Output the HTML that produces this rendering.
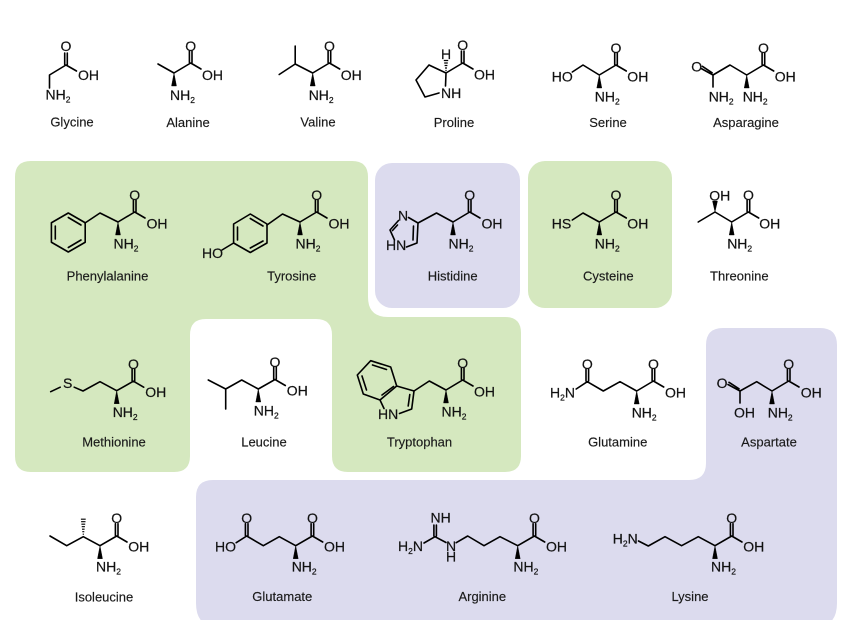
<!DOCTYPE html>
<html lang="en">
<head>
<meta charset="utf-8">
<title>Amino acids</title>
<style>
html,body{margin:0;padding:0;background:#fff}
body{width:854px;height:620px;overflow:hidden}
svg{display:block;filter:blur(.35px)}
.b{fill:none;stroke:#000;stroke-width:1.6;stroke-linecap:round;stroke-linejoin:round}
.h{fill:none;stroke:#000;stroke-width:1.2}
.w{fill:#000;stroke:#000;stroke-width:.4}
text{font-family:"Liberation Sans",sans-serif;font-size:14px;fill:#111;stroke:#111;stroke-width:.2}
text.l{font-size:13px;text-anchor:middle;fill:#1a1a1a;stroke:#1a1a1a;stroke-width:.15}
text.m{text-anchor:middle}
tspan.s{font-size:8.5px}
</style>
</head>
<body>
<svg width="854" height="620" viewBox="0 0 854 620" xmlns="http://www.w3.org/2000/svg">
<!-- Backgrounds -->
<path fill="#d5e8bf" d="M31 161H352Q368 161 368 177V297Q368 317 388 317H505Q521 317 521 333V456Q521 472 505 472H348Q332 472 332 456V335Q332 319 316 319H206Q190 319 190 335V456Q190 472 174 472H31Q15 472 15 456V177Q15 161 31 161Z"/>
<rect x="375" y="163" width="145" height="145" rx="17" fill="#dcdbee"/>
<rect x="528" y="161" width="144" height="147" rx="17" fill="#d5e8bf"/>
<path fill="#dcdbee" d="M213 480H689Q706 480 706 463V345Q706 328 723 328H820Q837 328 837 345V603Q837 620 826 625H207Q196 620 196 603V497Q196 480 213 480Z"/>

<!-- Glycine -->
<path class="b" d="M49.5 88V75L66 65L76.5 71M64.7 64.5V53M67.3 64.5V53"/>
<text x="66" y="51" class="m">O</text><text x="78" y="80">OH</text><text x="45.5" y="99.5">NH<tspan class="s" dy="3">2</tspan></text>
<text class="l" x="72" y="126.5">Glycine</text>

<!-- Alanine -->
<g transform="translate(174 73)"><path class="b" d="M-16 -9L0 0L16.7 -10L27 -4M15.4 -10.5V-22M18 -10.5V-22"/><polygon class="w" points="0,0 -2.5,13 2.5,13"/>
<text x="16.7" y="-22" class="m">O</text><text x="28" y="7">OH</text><text x="-4" y="27">NH<tspan class="s" dy="3">2</tspan></text></g>
<text class="l" x="188" y="127">Alanine</text>

<!-- Valine -->
<g transform="translate(312.7 73)"><path class="b" d="M-33.5 1.5L-17.5 -9V-27M-17.5 -9L0 0L16.7 -10L27 -4M15.4 -10.5V-22M18 -10.5V-22"/><polygon class="w" points="0,0 -2.5,13 2.5,13"/>
<text x="16.7" y="-22" class="m">O</text><text x="28" y="7">OH</text><text x="-4" y="27">NH<tspan class="s" dy="3">2</tspan></text></g>
<text class="l" x="318" y="126.5">Valine</text>

<!-- Proline -->
<g transform="translate(446 73)"><path class="b" d="M-0.5 13L0 0L16.7 -10L27 -4M15.4 -10.5V-22M18 -10.5V-22M0 0L-17 -8L-30 7L-21 24L-7 20"/>
<path class="h" d="M-0.6 -2.5H0.6M-1 -5H1M-1.4 -7.5H1.4M-1.8 -10H1.8M-2.2 -12.5H2.2"/>
<text x="0" y="-14" class="m">H</text><text x="16.7" y="-23" class="m">O</text><text x="28" y="6.5">OH</text><text x="-5" y="25">NH</text></g>
<text class="l" x="454" y="127">Proline</text>

<!-- Serine -->
<g transform="translate(599.3 75)"><path class="b" d="M-27 -3L-16.3 -10L0 0L16.7 -10L27 -4M15.4 -10.5V-22M18 -10.5V-22"/><polygon class="w" points="0,0 -2.5,13 2.5,13"/>
<text x="16.7" y="-22" class="m">O</text><text x="28" y="6.5">OH</text><text x="-4.5" y="26.5">NH<tspan class="s" dy="3">2</tspan></text><text x="-47.5" y="6.5">HO</text></g>
<text class="l" x="608" y="127">Serine</text>

<!-- Asparagine -->
<g transform="translate(746.7 75)"><path class="b" d="M-33.7 12V0L-16.7 -10L0 0L16.7 -10L27 -4M15.4 -10.5V-22M18 -10.5V-22M-33.7 0L-45.5 -6.5M-34.6 -2.2L-44.3 -8.7"/><polygon class="w" points="0,0 -2.5,13 2.5,13"/>
<text x="16.7" y="-22" class="m">O</text><text x="28" y="6.5">OH</text><text x="-4" y="26.5">NH<tspan class="s" dy="3">2</tspan></text><text x="-38" y="26.5">NH<tspan class="s" dy="3">2</tspan></text><text x="-50" y="-3.5" class="m">O</text></g>
<text class="l" x="746" y="127">Asparagine</text>

<!-- Phenylalanine -->
<g transform="translate(118 222)"><path class="b" d="M-33 1L-18 -9L0 0L16.7 -10L27 -4M15.4 -10.5V-22M18 -10.5V-22"/><polygon class="w" points="0,0 -2.5,13 2.5,13"/>
<text x="16.7" y="-22" class="m">O</text><text x="28.5" y="6.5">OH</text><text x="-4.5" y="26.5">NH<tspan class="s" dy="3">2</tspan></text></g>
<path class="b" d="M68.3 213L85.2 222.75V242.25L68.3 252L51.4 242.25V222.75ZM68.3 217.5L81 225M68.3 247.5L81 240M55.3 226V239"/>
<text class="l" x="107.5" y="280.5">Phenylalanine</text>

<!-- Tyrosine -->
<g transform="translate(300 222)"><path class="b" d="M-33 3L-17.5 -8L0 0L16.7 -10L27 -4M15.4 -10.5V-22M18 -10.5V-22"/><polygon class="w" points="0,0 -2.5,13 2.5,13"/>
<text x="16.7" y="-22" class="m">O</text><text x="28.5" y="6.5">OH</text><text x="-4.5" y="26.5">NH<tspan class="s" dy="3">2</tspan></text></g>
<path class="b" d="M250.3 214L267 224V243L250.3 252.5L233.6 243V224ZM250.3 218.5L263 226M250.3 248L263 241M237.5 227V240M233.6 243L222 250"/>
<text x="202" y="258">HO</text>
<text class="l" x="291.7" y="280.5">Tyrosine</text>

<!-- Histidine -->
<g transform="translate(453 222)"><path class="b" d="M-35 1L-16.5 -9L0 0L16.7 -10L27 -4M15.4 -10.5V-22M18 -10.5V-22"/><polygon class="w" points="0,0 -2.5,13 2.5,13"/>
<text x="16.7" y="-22" class="m">O</text><text x="28.5" y="6.5">OH</text><text x="-4.5" y="26.5">NH<tspan class="s" dy="3">2</tspan></text></g>
<path class="b" d="M418 223L408.5 217.5M398.5 220.5L390 230L394.5 240M406.5 247L417 243L418 223M413.5 226L413 240M397.5 225L392.5 230.5"/>
<text x="403" y="220.5" class="m">N</text><text x="386" y="250">HN</text>
<text class="l" x="452.7" y="280.5">Histidine</text>

<!-- Cysteine -->
<g transform="translate(599.3 222)"><path class="b" d="M-27 -2L-16.3 -9L0 0L16.7 -10L27 -4M15.4 -10.5V-22M18 -10.5V-22"/><polygon class="w" points="0,0 -2.5,13 2.5,13"/>
<text x="16.7" y="-22" class="m">O</text><text x="28" y="6.5">OH</text><text x="-4.5" y="26.5">NH<tspan class="s" dy="3">2</tspan></text><text x="-47.5" y="6.5">HS</text></g>
<text class="l" x="608.3" y="280.5">Cysteine</text>

<!-- Threonine -->
<g transform="translate(731.7 222)"><path class="b" d="M-33.5 0L-16.7 -10L0 0L16.7 -10L27 -4M15.4 -10.5V-22M18 -10.5V-22"/><polygon class="w" points="0,0 -2.5,13 2.5,13"/><polygon class="w" points="-16.7,-10 -19.2,-21 -14.2,-21"/>
<text x="16.7" y="-22" class="m">O</text><text x="27.5" y="6.5">OH</text><text x="-4.5" y="26.5">NH<tspan class="s" dy="3">2</tspan></text><text x="-22.5" y="-21.5">OH</text></g>
<text class="l" x="739.3" y="280.5">Threonine</text>

<!-- Methionine -->
<g transform="translate(116.7 390.7)"><path class="b" d="M-42.5 -3.5L-33.7 0.3L-16.7 -9L0 0L16.7 -9.5L27 -3.5M15.4 -10V-22M18 -10V-22M-56.5 -3.5L-66 1"/><polygon class="w" points="0,0 -2.5,13 2.5,13"/>
<text x="16.7" y="-21.5" class="m">O</text><text x="28.5" y="6.5">OH</text><text x="-4" y="26.5">NH<tspan class="s" dy="3">2</tspan></text><text x="-49" y="-2.5" class="m">S</text></g>
<text class="l" x="114" y="446.5">Methionine</text>

<!-- Leucine -->
<g transform="translate(258.3 389)"><path class="b" d="M-50 -9L-32.6 0V20M-32.6 0L-16.6 -9L0 0L16.7 -9.5L27 -3.5M15.4 -10V-22M18 -10V-22"/><polygon class="w" points="0,0 -2.5,13 2.5,13"/>
<text x="16.7" y="-22" class="m">O</text><text x="28.5" y="6.5">OH</text><text x="-4.5" y="26.5">NH<tspan class="s" dy="3">2</tspan></text></g>
<text class="l" x="264" y="446.5">Leucine</text>

<!-- Tryptophan -->
<g transform="translate(446 390)"><path class="b" d="M-32 1L-16.7 -9L0 0L16.7 -10L27 -4M15.4 -10.5V-22M18 -10.5V-22"/><polygon class="w" points="0,0 -2.5,13 2.5,13"/>
<text x="16.7" y="-22" class="m">O</text><text x="28" y="6.5">OH</text><text x="-4.5" y="26.5">NH<tspan class="s" dy="3">2</tspan></text></g>
<path class="b" d="M396.7 386L390.7 367L370.7 360.7L357.3 375L363.3 394L380 400L396.7 386L414 391L411.7 409L399.5 413.5M380 400L384 408.5M386.5 369.5L372.5 365M362 376L366.5 390M382 395L393.5 386.5M409.8 394.5L408.2 406"/>
<text x="378" y="419">HN</text>
<text class="l" x="419.5" y="446.5">Tryptophan</text>

<!-- Glutamine -->
<g transform="translate(636.7 391)"><path class="b" d="M-60.5 -2L-49.4 -9.3L-33.4 0L-16.7 -9.3L0 0L16.7 -10L27 -4M15.4 -10.5V-22M18 -10.5V-22M-50.7 -10V-22M-48.1 -10V-22"/><polygon class="w" points="0,0 -2.5,13 2.5,13"/>
<text x="16.7" y="-22" class="m">O</text><text x="28.3" y="6.5">OH</text><text x="-5" y="26.5">NH<tspan class="s" dy="3">2</tspan></text><text x="-49.4" y="-22" class="m">O</text><text x="-86.7" y="6.5">H<tspan class="s" dy="3">2</tspan><tspan dy="-3">N</tspan></text></g>
<text class="l" x="617.7" y="446.5">Glutamine</text>

<!-- Aspartate -->
<g transform="translate(772 391)"><path class="b" d="M-32 12V0L-15.3 -9.3L0 0L16.7 -10L27 -4M15.4 -10.5V-22M18 -10.5V-22M-32 0L-44 -6.5M-33 -2.2L-43 -8.7"/><polygon class="w" points="0,0 -2.5,13 2.5,13"/>
<text x="16.7" y="-22" class="m">O</text><text x="28.7" y="6.5">OH</text><text x="-4.3" y="26.5">NH<tspan class="s" dy="3">2</tspan></text><text x="-38" y="26.5">OH</text><text x="-50" y="-3" class="m">O</text></g>
<text class="l" x="769" y="446.5">Aspartate</text>

<!-- Isoleucine -->
<g transform="translate(100 545.7)"><path class="b" d="M-50 -9.7L-33.3 0L-16.7 -9L0 0L16.7 -9.7L27 -3.7M15.4 -10.2V-22M18 -10.2V-22"/><polygon class="w" points="0,0 -2.5,13 2.5,13"/>
<path class="h" d="M-17.3 -11.5H-16.1M-17.7 -14H-15.7M-18 -16.5H-15.4M-18.3 -19H-15.1M-18.6 -21.5H-14.8M-18.9 -24H-14.5M-19.1 -26.5H-14.3"/>
<text x="16.7" y="-22.5" class="m">O</text><text x="28.3" y="6">OH</text><text x="-4" y="26">NH<tspan class="s" dy="3">2</tspan></text></g>
<text class="l" x="104" y="601.7">Isoleucine</text>

<!-- Glutamate -->
<g transform="translate(295.7 545.7)"><path class="b" d="M-59.5 -3L-49 -9.7L-32.4 0L-16.4 -9L0 0L16.7 -9.7L27 -3.7M15.4 -10.2V-22M18 -10.2V-22M-50.3 -10.2V-22M-47.7 -10.2V-22"/><polygon class="w" points="0,0 -2.5,13 2.5,13"/>
<text x="16.7" y="-22.5" class="m">O</text><text x="28.3" y="6">OH</text><text x="-4" y="26">NH<tspan class="s" dy="3">2</tspan></text><text x="-49" y="-22.5" class="m">O</text><text x="-80.7" y="6">HO</text></g>
<text class="l" x="282.3" y="601">Glutamate</text>

<!-- Arginine -->
<g transform="translate(517.7 545.7)"><path class="b" d="M-61.5 -3L-50 -9.7L-33.7 0L-17.7 -9L0 0L16.7 -9.7L27 -3.7M15.4 -10.2V-22M18 -10.2V-22"/><polygon class="w" points="0,0 -2.5,13 2.5,13"/>
<text x="16.7" y="-22.5" class="m">O</text><text x="28.3" y="6">OH</text><text x="-4.3" y="26">NH<tspan class="s" dy="3">2</tspan></text></g>
<path class="b" d="M424 543L435 536.7L446 542.5M433.9 536V525M436.4 536V525"/>
<text x="430.5" y="522.3">NH</text><text x="398" y="551">H<tspan class="s" dy="3">2</tspan><tspan dy="-3">N</tspan></text><text x="451" y="551" class="m">N</text><text x="451" y="561.7" class="m">H</text>
<text class="l" x="482.3" y="601">Arginine</text>

<!-- Lysine -->
<g transform="translate(715 545.7)"><path class="b" d="M-76.5 -4.7L-66.7 0.3L-50 -9L-33.4 0L-16.7 -9L0 0L16.7 -9.7L27 -3.7M15.4 -10.2V-22M18 -10.2V-22"/><polygon class="w" points="0,0 -2.5,13 2.5,13"/>
<text x="16.7" y="-22.5" class="m">O</text><text x="28.3" y="6">OH</text><text x="-4" y="26">NH<tspan class="s" dy="3">2</tspan></text><text x="-102.3" y="-2.4">H<tspan class="s" dy="3">2</tspan><tspan dy="-3">N</tspan></text></g>
<text class="l" x="690" y="601">Lysine</text>
</svg>
</body>
</html>
